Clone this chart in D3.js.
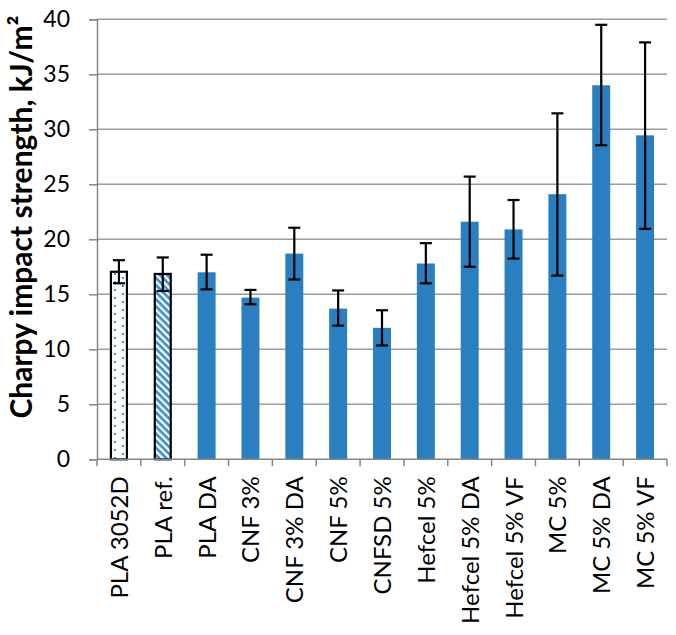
<!DOCTYPE html>
<html>
<head>
<meta charset="utf-8">
<script src="https://cdn.jsdelivr.net/npm/d3@7"></script>
<style>
  body { margin: 0; background: #fff; }
  svg text { font-family: Lato, "Open Sans", sans-serif; fill: #000; }
</style>
</head>
<body>
<div id="chart"></div>
<script>
var samples = ["PLA 3052D", "PLA ref.", "PLA DA", "CNF 3%", "CNF 3% DA", "CNF 5%",
  "CNFSD 5%", "Hefcel 5%", "Hefcel 5% DA", "Hefcel 5% VF", "MC 5%", "MC 5% DA", "MC 5% VF"];
var means = [17.05, 16.85, 17.0, 14.7, 18.7, 13.7, 11.95, 17.8, 21.6, 20.9, 24.1, 34.0, 29.45];
var errLow = [16.0, 15.3, 15.45, 14.1, 16.35, 12.15, 10.35, 16.0, 17.5, 18.25, 16.7, 28.55, 20.95];
var errHigh = [18.1, 18.35, 18.6, 15.4, 21.05, 15.35, 13.55, 19.65, 25.7, 23.57, 31.45, 39.5, 37.9];
var yTicks = [0, 5, 10, 15, 20, 25, 30, 35, 40];

var width = 676, height = 635;
// plot area edges (named so they don't clash with window.top)
var plotL = 97, plotR = 667, plotT = 19.3, plotB = 459.3;

var svg = d3.select("#chart").append("svg")
  .attr("width", width)
  .attr("height", height);

var defs = svg.append("defs");
// sparse dotted fill for the first bar
var dots = defs.append("pattern")
  .attr("id", "dots")
  .attr("patternUnits", "userSpaceOnUse")
  .attr("width", 16).attr("height", 8);
dots.append("rect").attr("width", 16).attr("height", 8).attr("fill", "#fff");
dots.append("rect").attr("x", 2).attr("y", 1).attr("width", 2).attr("height", 2).attr("fill", "#3a8fd0");
dots.append("rect").attr("x", 10).attr("y", 5).attr("width", 2).attr("height", 2).attr("fill", "#3a8fd0");
// diagonal stripes for the second bar
var stripes = defs.append("pattern")
  .attr("id", "stripes")
  .attr("patternUnits", "userSpaceOnUse")
  .attr("width", 5).attr("height", 5)
  .attr("patternTransform", "rotate(45)");
stripes.append("rect").attr("width", 5).attr("height", 5).attr("fill", "#fff");
stripes.append("rect").attr("width", 5).attr("height", 2.7).attr("fill", "#3a8fd0");

var x = d3.scaleBand()
  .domain(samples)
  .range([plotL, plotR])
  .paddingInner(0.59)
  .paddingOuter(0.295);

var y = d3.scaleLinear()
  .domain([0, 40])
  .range([plotB, plotT]);

// gridlines
svg.append("g").selectAll("line")
  .data(yTicks.filter(function(d){ return d > 0; }))
  .enter().append("line")
  .attr("x1", plotL).attr("x2", plotR)
  .attr("y1", function(d){ return y(d); })
  .attr("y2", function(d){ return y(d); })
  .attr("stroke", "#9c9c9c")
  .attr("stroke-width", 1.5);

// bars
svg.append("g").selectAll("rect")
  .data(means)
  .enter().append("rect")
  .attr("x", function(d, i){ return i < 2 ? x(samples[i]) + 1 : x(samples[i]); })
  .attr("width", function(d, i){ return i < 2 ? x.bandwidth() - 2 : x.bandwidth(); })
  .attr("y", function(d){ return y(d); })
  .attr("height", function(d){ return plotB - y(d); })
  .attr("fill", function(d, i){
    if (i == 0) return "url(#dots)";
    if (i == 1) return "url(#stripes)";
    return "#2a7fc1";
  })
  .attr("stroke", function(d, i){ return i < 2 ? "#000" : "none"; })
  .attr("stroke-width", 2.2);

// error bars
var err = svg.append("g").attr("stroke", "#000").attr("stroke-width", 2.2);
samples.forEach(function(s, i){
  var cx = x(s) + x.bandwidth() / 2;
  err.append("line").attr("x1", cx).attr("x2", cx)
    .attr("y1", y(errLow[i])).attr("y2", y(errHigh[i]));
  [errLow[i], errHigh[i]].forEach(function(v){
    err.append("line").attr("x1", cx - 6).attr("x2", cx + 6)
      .attr("y1", y(v)).attr("y2", y(v));
  });
});

// y axis
var yAxis = svg.append("g")
  .attr("transform", "translate(" + plotL + ",0)")
  .call(d3.axisLeft(y).tickValues(yTicks).tickSize(8).tickPadding(19));
yAxis.select(".domain").attr("stroke", "#868686").attr("stroke-width", 1.5);
yAxis.selectAll(".tick line").attr("stroke", "#868686").attr("stroke-width", 1.5);
yAxis.selectAll(".tick text").attr("font-size", 23).attr("font-family", "Lato, sans-serif").attr("fill", "#000");

// x axis: line plus ticks on band edges
svg.append("line")
  .attr("x1", plotL).attr("x2", plotR)
  .attr("y1", plotB).attr("y2", plotB)
  .attr("stroke", "#868686").attr("stroke-width", 1.5);
var step = x.step();
svg.append("g").selectAll("line")
  .data(d3.range(samples.length + 1))
  .enter().append("line")
  .attr("x1", function(d){ return plotL + d * step; })
  .attr("x2", function(d){ return plotL + d * step; })
  .attr("y1", plotB).attr("y2", plotB + 7)
  .attr("stroke", "#868686").attr("stroke-width", 1.5);

svg.append("g").selectAll("text")
  .data(samples)
  .enter().append("text")
  .attr("transform", function(d){
    return "translate(" + (x(d) + x.bandwidth() / 2 + 9) + "," + (plotB + 17) + ") rotate(-90)";
  })
  .attr("text-anchor", "end")
  .attr("font-size", 24)
  .text(function(d){ return d; });

// y title
svg.append("text")
  .attr("transform", "translate(32,217) rotate(-90)")
  .attr("text-anchor", "middle")
  .attr("font-size", 30)
  .attr("font-weight", "bold")
  .text("Charpy impact strength, kJ/m\u00b2");
</script>
</body>
</html>
